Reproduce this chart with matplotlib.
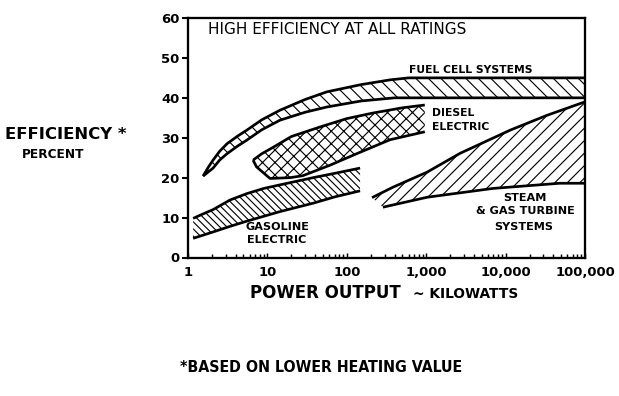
import matplotlib
matplotlib.use("Agg")
import matplotlib.pyplot as plt
import numpy as np

plt.rcParams['font.family'] = ['DejaVu Sans']
plt.rcParams['hatch.linewidth'] = 0.55
plt.rcParams['hatch.color'] = 'black'

# bands: x = kW, y = efficiency %
fuel_upper_x = [1.55, 1.8, 2.07, 2.5, 3.1, 4.2, 5.5, 8.5, 14.4, 30, 56, 150, 350, 600, 100000]
fuel_upper_y = [20.4, 22.6, 24.4, 26.6, 28.5, 30.4, 31.9, 34.5, 36.9, 39.6, 41.5, 43.3, 44.5, 45.0, 45.0]
fuel_lower_x = [1.55, 2.07, 2.5, 3.1, 4.2, 5.5, 8.5, 14.4, 30, 56, 150, 400, 100000]
fuel_lower_y = [20.4, 22.4, 24.4, 26.0, 27.9, 29.4, 32.0, 34.4, 36.4, 37.7, 39.2, 40.0, 40.0]

diesel_upper_x = [6.6, 8.5, 11.8, 20, 46, 100, 214, 500, 960]
diesel_upper_y = [24.4, 26.0, 27.6, 30.3, 32.7, 34.8, 36.2, 37.5, 38.2]
diesel_lower_x = [6.6, 7.3, 10.8, 19.3, 28, 61, 133, 350, 960]
diesel_lower_y = [24.4, 22.7, 19.8, 20.0, 20.5, 23.1, 26.0, 29.5, 31.5]

gas_upper_x = [1.16, 1.5, 2.07, 3.38, 5.5, 9.0, 14.4, 37.6, 71, 147]
gas_upper_y = [9.8, 10.8, 12.0, 14.4, 16.0, 17.3, 18.2, 20.0, 21.1, 22.4]
gas_lower_x = [1.16, 2.07, 3.38, 5.5, 14.4, 37.6, 71, 147]
gas_lower_y = [4.8, 6.4, 7.8, 9.1, 11.5, 13.6, 15.2, 16.7]

steam_upper_x = [208, 380, 1030, 2670, 11400, 33000, 100000]
steam_upper_y = [15.0, 17.6, 21.4, 26.1, 31.9, 35.6, 39.0]
steam_lower_x = [285, 1030, 2670, 6900, 48000, 100000]
steam_lower_y = [12.6, 15.1, 16.2, 17.3, 18.6, 18.6]

yticks = [0, 10, 20, 30, 40, 50, 60]
xticks = [1, 10, 100, 1000, 10000, 100000]
xticklabels = ['1', '10', '100', '1,000', '10,000', '100,000']

W, H = 619, 396
fig = plt.figure(figsize=(W / 150, H / 150), dpi=150)
ax = fig.add_axes([188 / W, 1 - 257.5 / H, (585 - 188) / W, (257.5 - 18) / H])

def px(x, y):
    return x / W, 1 - y / H

def band(ux, uy, lx, ly, hatch):
    xs = np.concatenate([ux, lx[::-1]])
    ys = np.concatenate([uy, ly[::-1]])
    ax.fill(xs, ys, facecolor='white', edgecolor='black', hatch=hatch, linewidth=0)
    ax.plot(ux, uy, color='black', lw=1.3, solid_capstyle='butt')
    ax.plot(lx, ly, color='black', lw=1.3, solid_capstyle='butt')

band(fuel_upper_x, fuel_upper_y, fuel_lower_x, fuel_lower_y, '\\' * 4)
band(diesel_upper_x, diesel_upper_y, diesel_lower_x, diesel_lower_y, 'xxxx')
band(gas_upper_x, gas_upper_y, gas_lower_x, gas_lower_y, '\\' * 7)
band(steam_upper_x, steam_upper_y, steam_lower_x, steam_lower_y, '////')

ax.set_xscale('log')
ax.set_xlim(1, 100000)
ax.set_ylim(0, 60)
ax.set_xticks(xticks)
ax.set_xticklabels(xticklabels)
ax.set_yticks(yticks)
for s in ax.spines.values():
    s.set_linewidth(1.1)
ax.tick_params(axis='x', which='both', direction='in', length=2.2, width=0.7,
               pad=4, labelsize=6.3)
ax.tick_params(axis='x', which='minor', length=1.8)
ax.tick_params(axis='y', direction='out', length=3, width=1.0, pad=1, labelsize=6.3)
for lab in ax.get_xticklabels() + ax.get_yticklabels():
    lab.set_fontweight('bold')

# texts
fig.text(*px(208, 30), 'HIGH EFFICIENCY AT ALL RATINGS', fontsize=7.3,
         ha='left', va='center')
fig.text(*px(471, 70), 'FUEL CELL SYSTEMS', fontsize=5.2, fontweight='bold',
         ha='center', va='center')
fig.text(*px(432, 113), 'DIESEL', fontsize=5.2, fontweight='bold', ha='left', va='center')
fig.text(*px(432, 127), 'ELECTRIC', fontsize=5.2, fontweight='bold', ha='left', va='center')
fig.text(*px(277, 227), 'GASOLINE', fontsize=5.4, fontweight='bold', ha='center', va='center')
fig.text(*px(277, 240), 'ELECTRIC', fontsize=5.4, fontweight='bold', ha='center', va='center')
fig.text(*px(525, 198), 'STEAM', fontsize=5.4, fontweight='bold', ha='center', va='center')
fig.text(*px(525, 211), '& GAS TURBINE', fontsize=5.4, fontweight='bold', ha='center', va='center')
fig.text(*px(524, 227), 'SYSTEMS', fontsize=5.4, fontweight='bold', ha='center', va='center')

fig.text(*px(5, 135), 'EFFICIENCY *', fontsize=7.9, fontweight='bold', ha='left', va='center')
fig.text(*px(22, 155), 'PERCENT', fontsize=5.8, fontweight='bold', ha='left', va='center')

fig.text(*px(250, 298), 'POWER OUTPUT', fontsize=8.0, fontweight='bold', ha='left',
         va='baseline')
fig.text(*px(413, 298), '~ KILOWATTS', fontsize=6.6, fontweight='bold', ha='left',
         va='baseline')

fig.text(*px(180, 368), '*BASED ON LOWER HEATING VALUE', fontsize=7.6, fontweight='bold',
         fontstretch='condensed', ha='left', va='center')

fig.savefig('out.png', dpi=150)
